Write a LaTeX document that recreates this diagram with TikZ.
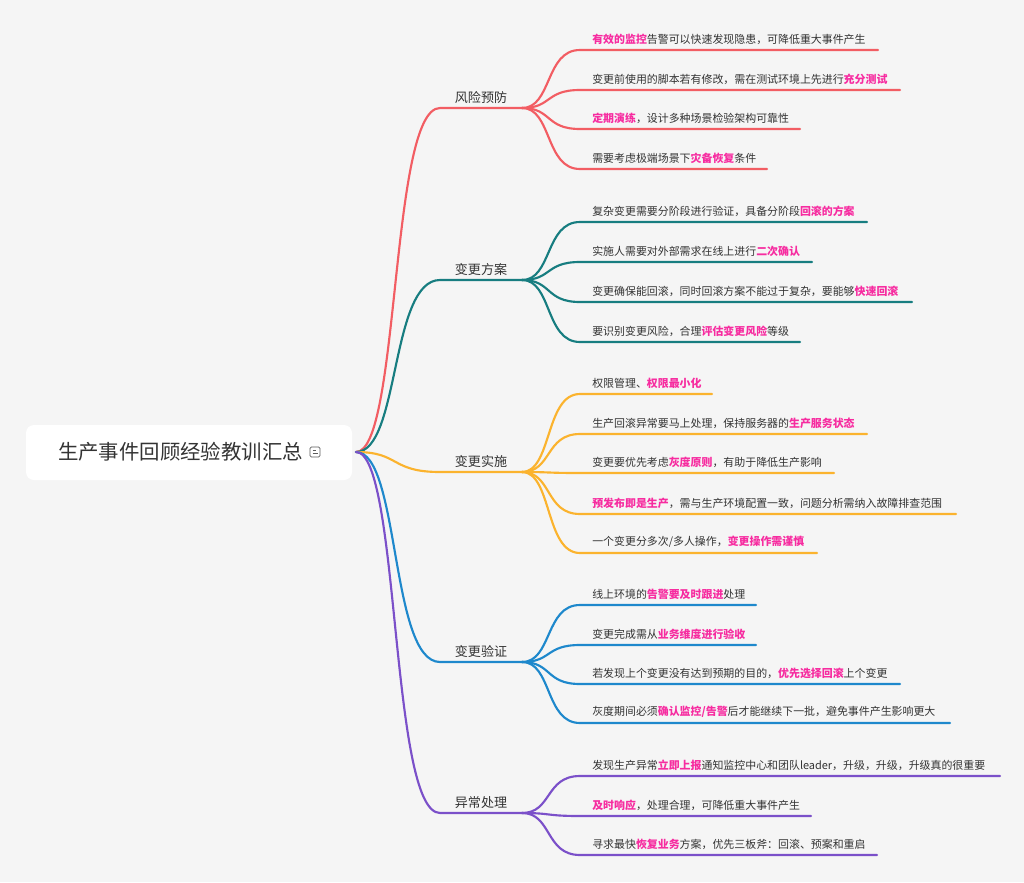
\documentclass[tikz,border=0pt]{standalone}
\usepackage{fontspec}
\setmainfont{Noto Sans CJK SC}
\begin{document}
\definecolor{bg}{HTML}{F5F5F5}
\definecolor{cR}{HTML}{F25D63}
\definecolor{cT}{HTML}{177D80}
\definecolor{cY}{HTML}{FBB32E}
\definecolor{cB}{HTML}{1E88CC}
\definecolor{cP}{HTML}{7B50C9}
\definecolor{hlc}{HTML}{F72CA0}
\definecolor{txt}{HTML}{333333}
\newcommand\hlt[1]{\textcolor{hlc}{\bfseries #1}}
\begin{tikzpicture}[x=0.75pt,y=-0.75pt,
  conn/.style={line width=1.6pt,line cap=round},
  leaf/.style={anchor=south west,inner sep=0pt,font=\fontsize{8.2}{10}\selectfont,text=txt},
  br/.style={inner sep=0pt,font=\fontsize{9.8}{12}\selectfont,text=txt}]
\fill[bg] (0,0) rectangle (1024,882);
\useasboundingbox (0,0) rectangle (1024,882);
\fill[white,rounded corners=6pt] (26,425) rectangle (352,480);
\node[inner sep=0pt,font=\fontsize{15.3}{17}\selectfont,text=txt] (root) at (180.5,452) {生产事件回顾经验教训汇总};
\draw[txt!80,line width=0.6pt,rounded corners=1pt] (310,447) rectangle (320,457);
\draw[txt!80,line width=0.6pt] (312.5,450.5)--(316,450.5) (312.5,453.5)--(318,453.5);
\coordinate (r) at (356,452);
\newcommand\branch[4]{%
  \coordinate (#1a) at (440,#3);
  \coordinate (#1b) at (522,#3);
  \draw[conn,#2] (r) .. controls (400,452) and (390,#3) .. (#1a) -- (#1b);
  \node[br,anchor=south] (#1) at (481,#3-4) {#4};}
\newcommand\leaf[6]{%
  \coordinate (#1e) at (#5,#4);
  \coordinate (#1s) at (580,#4);
  \draw[conn,#2] (#3b) .. controls +(30,0) and +(-35,0) .. (#1s) -- (#1e);
  \node[leaf] (#1) at (592,#4-5) {#6};}
\branch{b1}{cR}{108}{风险预防}
\branch{b2}{cT}{280}{变更方案}
\branch{b3}{cY}{472}{变更实施}
\branch{b4}{cB}{662}{变更验证}
\branch{b5}{cP}{813}{异常处理}
\leaf{l11}{cR}{b1}{50}{878}{\hlt{有效的监控}告警可以快速发现隐患，可降低重大事件产生}
\leaf{l12}{cR}{b1}{90}{900}{变更前使用的脚本若有修改，需在测试环境上先进行\hlt{充分测试}}
\leaf{l13}{cR}{b1}{129}{800}{\hlt{定期演练}，设计多种场景检验架构可靠性}
\leaf{l14}{cR}{b1}{169}{767}{需要考虑极端场景下\hlt{灾备恢复}条件}
\leaf{l21}{cT}{b2}{222}{867}{复杂变更需要分阶段进行验证，具备分阶段\hlt{回滚的方案}}
\leaf{l22}{cT}{b2}{262}{812}{实施人需要对外部需求在线上进行\hlt{二次确认}}
\leaf{l23}{cT}{b2}{302}{912}{变更确保能回滚，同时回滚方案不能过于复杂，要能够\hlt{快速回滚}}
\leaf{l24}{cT}{b2}{342}{800}{要识别变更风险，合理\hlt{评估变更风险}等级}
\leaf{l31}{cY}{b3}{394}{712}{权限管理、\hlt{权限最小化}}
\leaf{l32}{cY}{b3}{434}{867}{生产回滚异常要马上处理，保持服务器的\hlt{生产服务状态}}
\leaf{l33}{cY}{b3}{473}{834}{变更要优先考虑\hlt{灰度原则}，有助于降低生产影响}
\leaf{l34}{cY}{b3}{514}{956}{\hlt{预发布即是生产}，需与生产环境配置一致，问题分析需纳入故障排查范围}
\leaf{l35}{cY}{b3}{553}{817}{一个变更分多次/多人操作，\hlt{变更操作需谨慎}}
\leaf{l41}{cB}{b4}{605}{756}{线上环境的\hlt{告警要及时跟进}处理}
\leaf{l42}{cB}{b4}{645}{756}{变更完成需从\hlt{业务维度进行验收}}
\leaf{l43}{cB}{b4}{684}{900}{若发现上个变更没有达到预期的目的，\hlt{优先选择回滚}上个变更}
\leaf{l44}{cB}{b4}{723}{950}{灰度期间必须\hlt{确认监控/告警}后才能继续下一批，避免事件产生影响更大}
\leaf{l51}{cP}{b5}{776}{1000}{发现生产异常\hlt{立即上报}通知监控中心和团队leader，升级，升级，升级真的很重要}
\leaf{l52}{cP}{b5}{816}{811}{\hlt{及时响应}，处理合理，可降低重大事件产生}
\leaf{l53}{cP}{b5}{855}{877}{寻求最快\hlt{恢复业务}方案，优先三板斧：回滚、预案和重启}
\end{tikzpicture}
\end{document}
